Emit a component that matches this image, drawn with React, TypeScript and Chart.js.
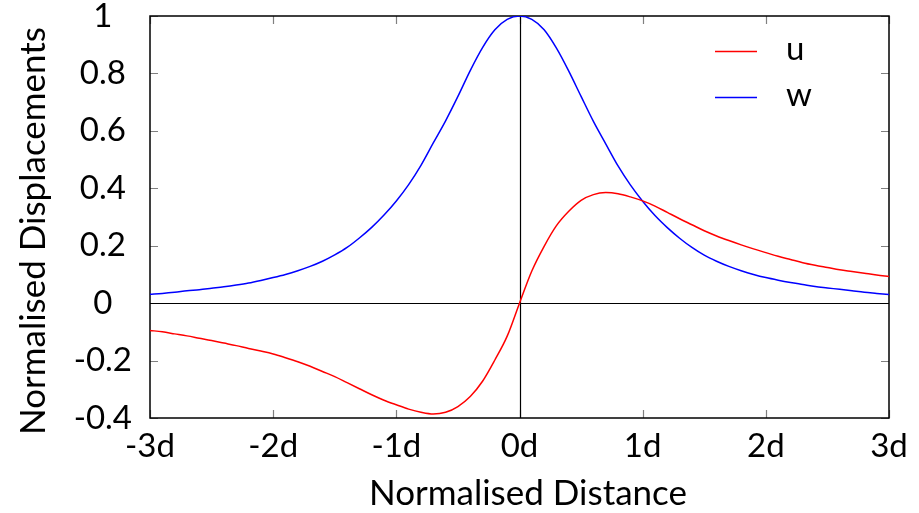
import { useEffect, useRef } from "react";
import { Chart, registerables } from "chart.js";

Chart.register(...registerables);

const xValues = [
  -3, -2.9, -2.8, -2.7, -2.6, -2.5, -2.4, -2.3, -2.2, -2.1,
  -2, -1.9, -1.8, -1.7, -1.6, -1.5, -1.4, -1.3, -1.2, -1.1,
  -1, -0.9, -0.8, -0.7, -0.6, -0.5, -0.4, -0.3, -0.2, -0.1,
  0,
  0.1, 0.2, 0.3, 0.4, 0.5, 0.6, 0.7, 0.8, 0.9, 1,
  1.1, 1.2, 1.3, 1.4, 1.5, 1.6, 1.7, 1.8, 1.9, 2,
  2.1, 2.2, 2.3, 2.4, 2.5, 2.6, 2.7, 2.8, 2.9, 3,
];
const uValues = [
  -0.095, -0.100, -0.107, -0.114, -0.122, -0.130, -0.139, -0.148, -0.158, -0.167,
  -0.177, -0.190, -0.204, -0.220, -0.238, -0.256, -0.277, -0.298, -0.319, -0.338,
  -0.354, -0.369, -0.380, -0.386, -0.380, -0.360, -0.325, -0.272, -0.198, -0.115,
  0,
  0.112, 0.198, 0.270, 0.320, 0.358, 0.378, 0.385, 0.381, 0.370, 0.356,
  0.338, 0.316, 0.294, 0.273, 0.252, 0.234, 0.218, 0.203, 0.189, 0.176,
  0.163, 0.152, 0.141, 0.132, 0.124, 0.116, 0.110, 0.104, 0.098, 0.093,
];
const wValues = [
  0.031, 0.034, 0.038, 0.043, 0.047, 0.052, 0.057, 0.063, 0.070, 0.079,
  0.089, 0.100, 0.113, 0.128, 0.146, 0.168, 0.194, 0.227, 0.264, 0.307,
  0.356, 0.413, 0.480, 0.558, 0.635, 0.720, 0.810, 0.890, 0.952, 0.988,
  1.0,
  0.988, 0.952, 0.888, 0.808, 0.720, 0.633, 0.555, 0.478, 0.412, 0.355,
  0.305, 0.263, 0.226, 0.194, 0.167, 0.146, 0.128, 0.113, 0.100, 0.089,
  0.080, 0.072, 0.065, 0.058, 0.053, 0.048, 0.043, 0.038, 0.034, 0.030,
];
const xTickValues = [-3, -2, -1, 0, 1, 2, 3];
const yTickValues = [-0.4, -0.2, 0, 0.2, 0.4, 0.6, 0.8, 1];
const seriesNames = ["u", "w"];
const seriesColors = ["#ff0000", "#0000ff"];
const xTitle = "Normalised Distance";
const yTitle = "Normalised Displacements";

const FONT = "Lato, 'Open Sans', sans-serif";

const framePlugin = {
  id: "frame",
  beforeDatasetsDraw(chart: any) {
    const { ctx, chartArea: a, scales } = chart;
    const xs = scales.x;
    const ys = scales.y;
    ctx.save();
    ctx.strokeStyle = "#808080";
    ctx.lineWidth = 1.2;
    const tl = 8;
    ctx.beginPath();
    xTickValues.forEach((v) => {
      const px = Math.round(xs.getPixelForValue(v)) + 0.5;
      ctx.moveTo(px, a.bottom);
      ctx.lineTo(px, a.bottom - tl);
      ctx.moveTo(px, a.top);
      ctx.lineTo(px, a.top + tl);
    });
    yTickValues.forEach((v) => {
      const py = Math.round(ys.getPixelForValue(v)) + 0.5;
      ctx.moveTo(a.left, py);
      ctx.lineTo(a.left + tl, py);
      ctx.moveTo(a.right, py);
      ctx.lineTo(a.right - tl, py);
    });
    ctx.stroke();
    ctx.strokeStyle = "#000";
    ctx.lineWidth = 1.2;
    const x0 = Math.round(xs.getPixelForValue(0)) + 0.5;
    const y0 = Math.round(ys.getPixelForValue(0)) + 0.5;
    ctx.beginPath();
    ctx.moveTo(a.left, y0);
    ctx.lineTo(a.right, y0);
    ctx.moveTo(x0, a.top);
    ctx.lineTo(x0, a.bottom);
    ctx.stroke();
    ctx.lineWidth = 1.5;
    ctx.strokeRect(a.left, a.top, a.right - a.left, a.bottom - a.top);
    ctx.restore();
  },
  afterDraw(chart: any) {
    const { ctx } = chart;
    ctx.save();
    const lx1 = 715;
    const lx2 = 757;
    const ly = [51, 97];
    chart.data.datasets.forEach((ds: any, i: number) => {
      ctx.strokeStyle = ds.borderColor;
      ctx.lineWidth = 1.5;
      ctx.beginPath();
      ctx.moveTo(lx1, ly[i] + 0.5);
      ctx.lineTo(lx2, ly[i] + 0.5);
      ctx.stroke();
      ctx.fillStyle = "#000";
      ctx.font = `33px ${FONT}`;
      ctx.textAlign = "left";
      ctx.textBaseline = "middle";
      ctx.fillText(ds.label, 786, ly[i] - 2);
    });
    ctx.fillStyle = "#000";
    ctx.font = `35px ${FONT}`;
    ctx.textAlign = "center";
    ctx.textBaseline = "middle";
    ctx.fillText(xTitle, 528, 494);
    ctx.translate(34, 231);
    ctx.rotate(-Math.PI / 2);
    ctx.fillText(yTitle, 0, 0);
    ctx.restore();
  },
};

export default function App() {
  const canvasRef = useRef<HTMLCanvasElement | null>(null);

  useEffect(() => {
    const canvas = canvasRef.current;
    if (!canvas) return;
    const chart = new Chart(canvas, {
      type: "line",
      data: {
        datasets: [
          {
            label: seriesNames[0],
            data: xValues.map((x, i) => ({ x, y: uValues[i] })),
            borderColor: seriesColors[0],
            borderWidth: 1.5,
            pointRadius: 0,
            cubicInterpolationMode: "monotone",
            fill: false,
          },
          {
            label: seriesNames[1],
            data: xValues.map((x, i) => ({ x, y: wValues[i] })),
            borderColor: seriesColors[1],
            borderWidth: 1.5,
            pointRadius: 0,
            cubicInterpolationMode: "monotone",
            fill: false,
          },
        ],
      },
      options: {
        responsive: false,
        animation: false,
        devicePixelRatio: 1,
        layout: { padding: { top: 16, right: 30, left: 0, bottom: 0 } },
        plugins: {
          legend: { display: false },
          tooltip: { enabled: false },
          title: { display: false },
        },
        scales: {
          x: {
            type: "linear",
            min: -3,
            max: 3,
            afterBuildTicks: (s: any) => {
              s.ticks = xTickValues.map((v) => ({ value: v }));
            },
            afterFit: (s: any) => {
              s.height = 95;
              s.paddingLeft = 0;
              s.paddingRight = 0;
            },
            grid: { display: false, drawTicks: false },
            border: { display: false },
            ticks: {
              color: "#000",
              font: { family: FONT, size: 33, lineHeight: 1 },
              padding: 12,
              maxRotation: 0,
              autoSkip: false,
              callback: (v: any) => `${Math.round(Number(v))}d`,
            },
          },
          y: {
            type: "linear",
            min: -0.4,
            max: 1,
            afterBuildTicks: (s: any) => {
              s.ticks = yTickValues.map((v) => ({ value: v }));
            },
            afterFit: (s: any) => {
              s.width = 150;
              s.paddingTop = 0;
              s.paddingBottom = 0;
            },
            grid: { display: false, drawTicks: false },
            border: { display: false },
            ticks: {
              color: "#000",
              font: { family: FONT, size: 33, lineHeight: 1 },
              padding: 18,
              crossAlign: "center",
              autoSkip: false,
              callback: (v: any) => `${Math.round(Number(v) * 10) / 10}`,
            },
          },
        },
      },
      plugins: [framePlugin],
    } as any);
    return () => chart.destroy();
  }, []);

  return (
    <div style={{ position: "fixed", left: 0, top: 0, width: 919, height: 513, background: "#fff" }}>
      <canvas ref={canvasRef} width={919} height={513} style={{ display: "block" }} />
    </div>
  );
}
